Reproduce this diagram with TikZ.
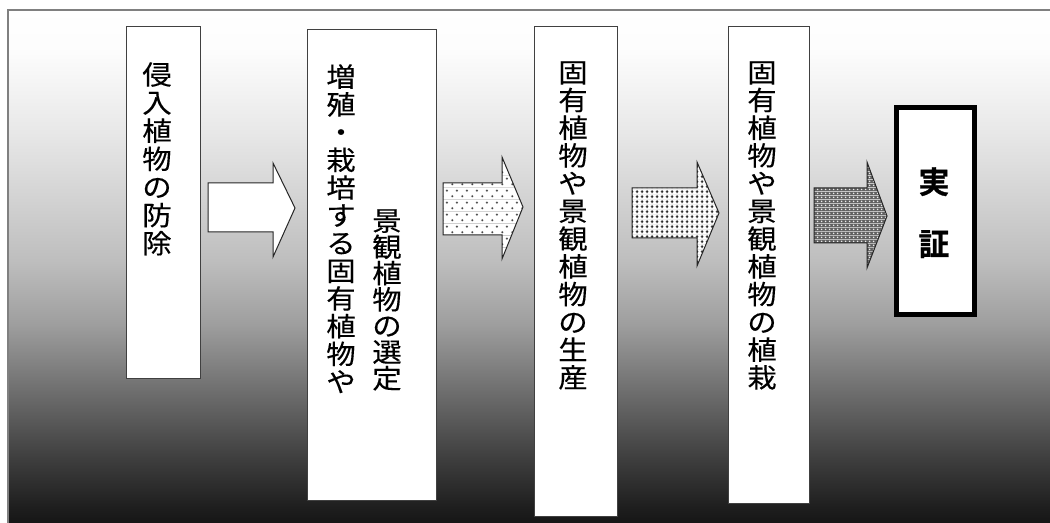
\documentclass[tikz,border=0pt]{standalone}
\usepackage{fontspec}
\usetikzlibrary{patterns.meta,fit}
\newfontfamily\jp{Noto Sans CJK JP}[FakeStretch=1.1, FakeBold=0.3]
\newfontfamily\jpb{Noto Sans CJK JP Bold}[FakeBold=1]
\pgfdeclareverticalshading{bgshade}{100bp}{%
  color(0bp)=(black!93);
  color(25bp)=(black!93);
  color(27.24bp)=(black!88);
  color(32.11bp)=(black!75);
  color(37.96bp)=(black!58);
  color(44.79bp)=(black!38);
  color(50.63bp)=(black!26);
  color(56.48bp)=(black!18);
  color(63.30bp)=(black!9);
  color(71.10bp)=(black!1);
  color(75bp)=(white);
  color(100bp)=(white)}
\tikzdeclarepattern{
  name=sparsedots, type=colored,
  bounding box={(0pt,0pt) and (7.5pt,9pt)},
  tile size={(7.5pt,9pt)},
  code={
    \fill[white] (0pt,0pt) rectangle (7.5pt,9pt);
    \fill[black!35] (1.875pt,2.25pt) circle (1.1pt);
    \fill[black!35] (5.625pt,6.75pt) circle (1.1pt);
    \fill[black!85] (1.875pt,2.25pt) circle (0.6pt);
    \fill[black!85] (5.625pt,6.75pt) circle (0.6pt);
  }}
\tikzdeclarepattern{
  name=densedots, type=colored,
  bounding box={(0pt,0pt) and (3.75pt,3.6pt)},
  tile size={(3.75pt,3.6pt)},
  code={
    \fill[white] (0pt,0pt) rectangle (3.75pt,3.6pt);
    \fill[black!55] (1.875pt,1.8pt) circle (1.35pt);
    \fill[black!90] (1.875pt,1.8pt) circle (0.7pt);
  }}
\tikzdeclarepattern{
  name=darkdots, type=colored,
  bounding box={(0pt,0pt) and (3pt,3pt)},
  tile size={(3pt,3pt)},
  code={
    \fill[black!62] (0pt,0pt) rectangle (3pt,3pt);
    \fill[black!8] (1.5pt,1.5pt) circle (0.8pt);
  }}
\tikzset{
  box/.style={draw=black!75, line width=0.75pt, fill=white, inner sep=0pt},
  vtxt/.style={font=\jp\fontsize{20}{20.8}\selectfont, align=center, inner sep=0pt, anchor=north},
  blockarrow/.style={draw=black!85, line width=0.75pt}
}
\begin{document}
\begin{tikzpicture}[x=0.75pt, y=-0.75pt]
\useasboundingbox (0,0) rectangle (1050,523);
\clip (0,0) rectangle (1050,523);
% background frame
\shade[shading=bgshade] (8,10) rectangle (1060,530);
\draw[black!50, line width=1.5pt] (8,530) -- (8,10.5) -- (1060,10.5);
% boxes
\node[box, fit={(126,27) (200,379)}] (b1) {};
\node[box, fit={(307,30) (436,501)}] (b2) {};
\node[box, fit={(534,27) (617,517)}] (b3) {};
\node[box, fit={(728,27) (809,504)}] (b4) {};
\node[draw=black, line width=3.75pt, fill=white, inner sep=0pt, fit={(896.5,107.5) (974.5,314.5)}] (b5) {};
% texts
\node[vtxt, font=\jp\fontsize{20}{21.1}\selectfont] (t1) at (157,62) {侵\\入\\植\\物\\の\\防\\除};
\node[vtxt] (t2a) at (341,64) {増\\殖\\・\\栽\\培\\す\\る\\固\\有\\植\\物\\や};
\node[vtxt, font=\jp\fontsize{20}{19.7}\selectfont] (t2b) at (387,209) {景\\観\\植\\物\\の\\選\\定};
\node[vtxt] (t3) at (573,61) {固\\有\\植\\物\\や\\景\\観\\植\\物\\の\\生\\産};
\node[vtxt] (t4) at (762,61) {固\\有\\植\\物\\や\\景\\観\\植\\物\\の\\植\\栽};
\node[vtxt, font=\jpb\fontsize{23}{46.5}\selectfont] (t5) at (934,167) {実\\証};
% block arrows
\draw[blockarrow, fill=white] (208,183) -- (273,183) -- (273,163) -- (295,208) -- (273,257) -- (273,232) -- (208,232) -- cycle;
\draw[blockarrow, pattern={sparsedots}] (443,183) -- (502,183) -- (502,157) -- (523,207) -- (502,259) -- (502,235) -- (443,235) -- cycle;
\draw[blockarrow, pattern={densedots}] (632,188) -- (697,188) -- (697,162) -- (719,213) -- (697,266) -- (697,238) -- (632,238) -- cycle;
\draw[blockarrow, pattern={darkdots}] (814,188) -- (867,188) -- (867,162) -- (887,216) -- (867,268) -- (867,243) -- (814,243) -- cycle;
\end{tikzpicture}
\end{document}
